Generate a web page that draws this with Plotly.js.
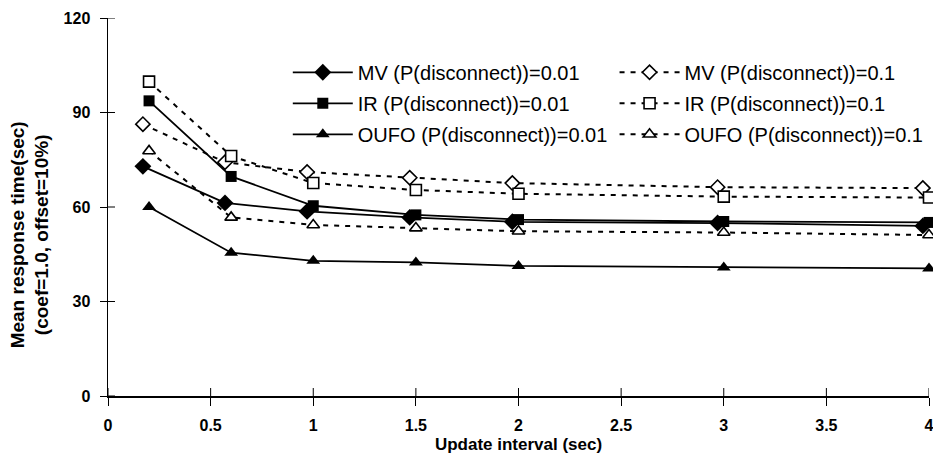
<!DOCTYPE html>
<html>
<head>
<meta charset="utf-8">
<script src="https://cdn.plot.ly/plotly-3.0.1.min.js"></script>
<style>
  html, body { margin: 0; padding: 0; background: #fff; }
  #chart { width: 933px; height: 471px; }
</style>
</head>
<body>
<div id="chart"></div>
<script>
// Update intervals (sec); MV points are drawn slightly left of the others
const intervals = [0.2, 0.6, 1, 1.5, 2, 3, 4];
const intervalsMV = [0.17, 0.57, 0.97, 1.47, 1.97, 2.97, 3.97];

// Mean response time (sec), coef=1.0, offset=10%
const mv001 = [72.9, 61.3, 58.6, 56.7, 55.3, 54.9, 54.0];
const ir001 = [93.7, 69.7, 60.4, 57.5, 56.0, 55.4, 55.1];
const oufo001 = [60.0, 45.5, 42.9, 42.4, 41.3, 40.8, 40.5];
const mv01 = [86.3, 74.2, 71.1, 69.3, 67.6, 66.3, 66.0];
const ir01 = [99.8, 76.2, 67.6, 65.4, 64.2, 63.3, 63.0];
const oufo01 = [77.8, 56.7, 54.3, 53.3, 52.3, 51.9, 51.1];

const xTicks = [0, 0.5, 1, 1.5, 2, 2.5, 3, 3.5, 4];
const xTickText = ['0', '0.5', '1', '1.5', '2', '2.5', '3', '3.5', '4'];
const yTicks = [0, 30, 60, 90, 120];

const FONT = '"Liberation Sans", Arial, Helvetica, sans-serif';

function series(name, xs, ys, symbol, size, filled, dashed, legend, group) {
  return {
    type: 'scatter', mode: 'lines+markers', name: name,
    x: xs, y: ys, legend: legend, legendgroup: group,
    cliponaxis: false,
    line: { color: '#000', width: dashed ? 2 : 1.8, dash: dashed ? '5px,6px' : 'solid' },
    marker: {
      symbol: symbol, size: size,
      color: filled ? '#000' : '#fff',
      line: { color: '#000', width: filled ? 0 : 1.6 }
    },
    hoverinfo: 'x+y+name'
  };
}

const data = [
  series('MV (P(disconnect))=0.1', intervalsMV, mv01, 'diamond', 11, false, true, 'legend2', 'a2'),
  series('IR (P(disconnect))=0.1', intervals, ir01, 'square', 11, false, true, 'legend2', 'b2'),
  series('OUFO (P(disconnect))=0.1', intervals, oufo01, 'triangle-up', 11, false, true, 'legend2', 'c2'),
  series('MV (P(disconnect))=0.01', intervalsMV, mv001, 'diamond', 13, true, false, 'legend', 'a1'),
  series('IR (P(disconnect))=0.01', intervals, ir001, 'square', 11, true, false, 'legend', 'b1'),
  series('OUFO (P(disconnect))=0.01', intervals, oufo001, 'triangle-up', 12, true, false, 'legend', 'c1')
];

// inner halves of the crossing tick marks (outer halves are the axis ticks)
const tickShapes = xTicks.map(t => ({
  type: 'line', xref: 'x', yref: 'y', ysizemode: 'pixel', yanchor: 0,
  x0: t, x1: t, y0: 0, y1: 8, line: { color: '#000', width: 1 }, layer: 'above'
})).concat(yTicks.map(t => ({
  type: 'line', xref: 'x', yref: 'y', xsizemode: 'pixel', xanchor: 0,
  x0: 0, x1: 7, y0: t, y1: t, line: { color: '#000', width: 1 }, layer: 'above'
})));

const legendCommon = {
  orientation: 'v', traceorder: 'grouped', tracegroupgap: 2,
  xanchor: 'left', yanchor: 'top', bgcolor: 'rgba(0,0,0,0)',
  itemwidth: 60, font: { family: FONT, size: 20, color: '#000' }
};

const layout = {
  width: 933, height: 471,
  margin: { l: 108, r: 4, t: 18, b: 75 },
  paper_bgcolor: '#fff', plot_bgcolor: '#fff',
  font: { family: FONT, color: '#000' },
  showlegend: true,
  legend: Object.assign({}, legendCommon, { x: 0.219, y: 0.908 }),
  legend2: Object.assign({}, legendCommon, { x: 0.617, y: 0.908 }),
  xaxis: {
    range: [0, 4], tickvals: xTicks, ticktext: xTickText,
    showgrid: false, zeroline: false, showline: true, linecolor: '#000', linewidth: 1.5,
    ticks: 'outside', ticklen: 8, tickwidth: 1, tickcolor: '#000',
    ticklabelstandoff: 6, ticklabeloverflow: 'allow',
    tickfont: { family: FONT, size: 16, weight: 700 },
    title: { text: 'Update interval (sec)', font: { family: FONT, size: 17, weight: 700 }, standoff: 5 }
  },
  yaxis: {
    range: [0, 120], tickvals: yTicks,
    showgrid: false, zeroline: false, showline: true, linecolor: '#000', linewidth: 1.5,
    ticks: 'outside', ticklen: 7, tickwidth: 1, tickcolor: '#000',
    ticklabelstandoff: 6, ticklabeloverflow: 'allow',
    tickfont: { family: FONT, size: 16, weight: 700 }
  },
  shapes: tickShapes,
  annotations: [{
    text: 'Mean response time(sec)<br>(coef=1.0, offset=10%)',
    xref: 'paper', yref: 'paper', x: -0.095, y: 0.425,
    xanchor: 'center', yanchor: 'middle', textangle: -90, showarrow: false,
    font: { family: FONT, size: 19, weight: 700, color: '#000' }
  }]
};

Plotly.newPlot('chart', data, layout, { displayModeBar: false, staticPlot: true });
</script>
</body>
</html>
